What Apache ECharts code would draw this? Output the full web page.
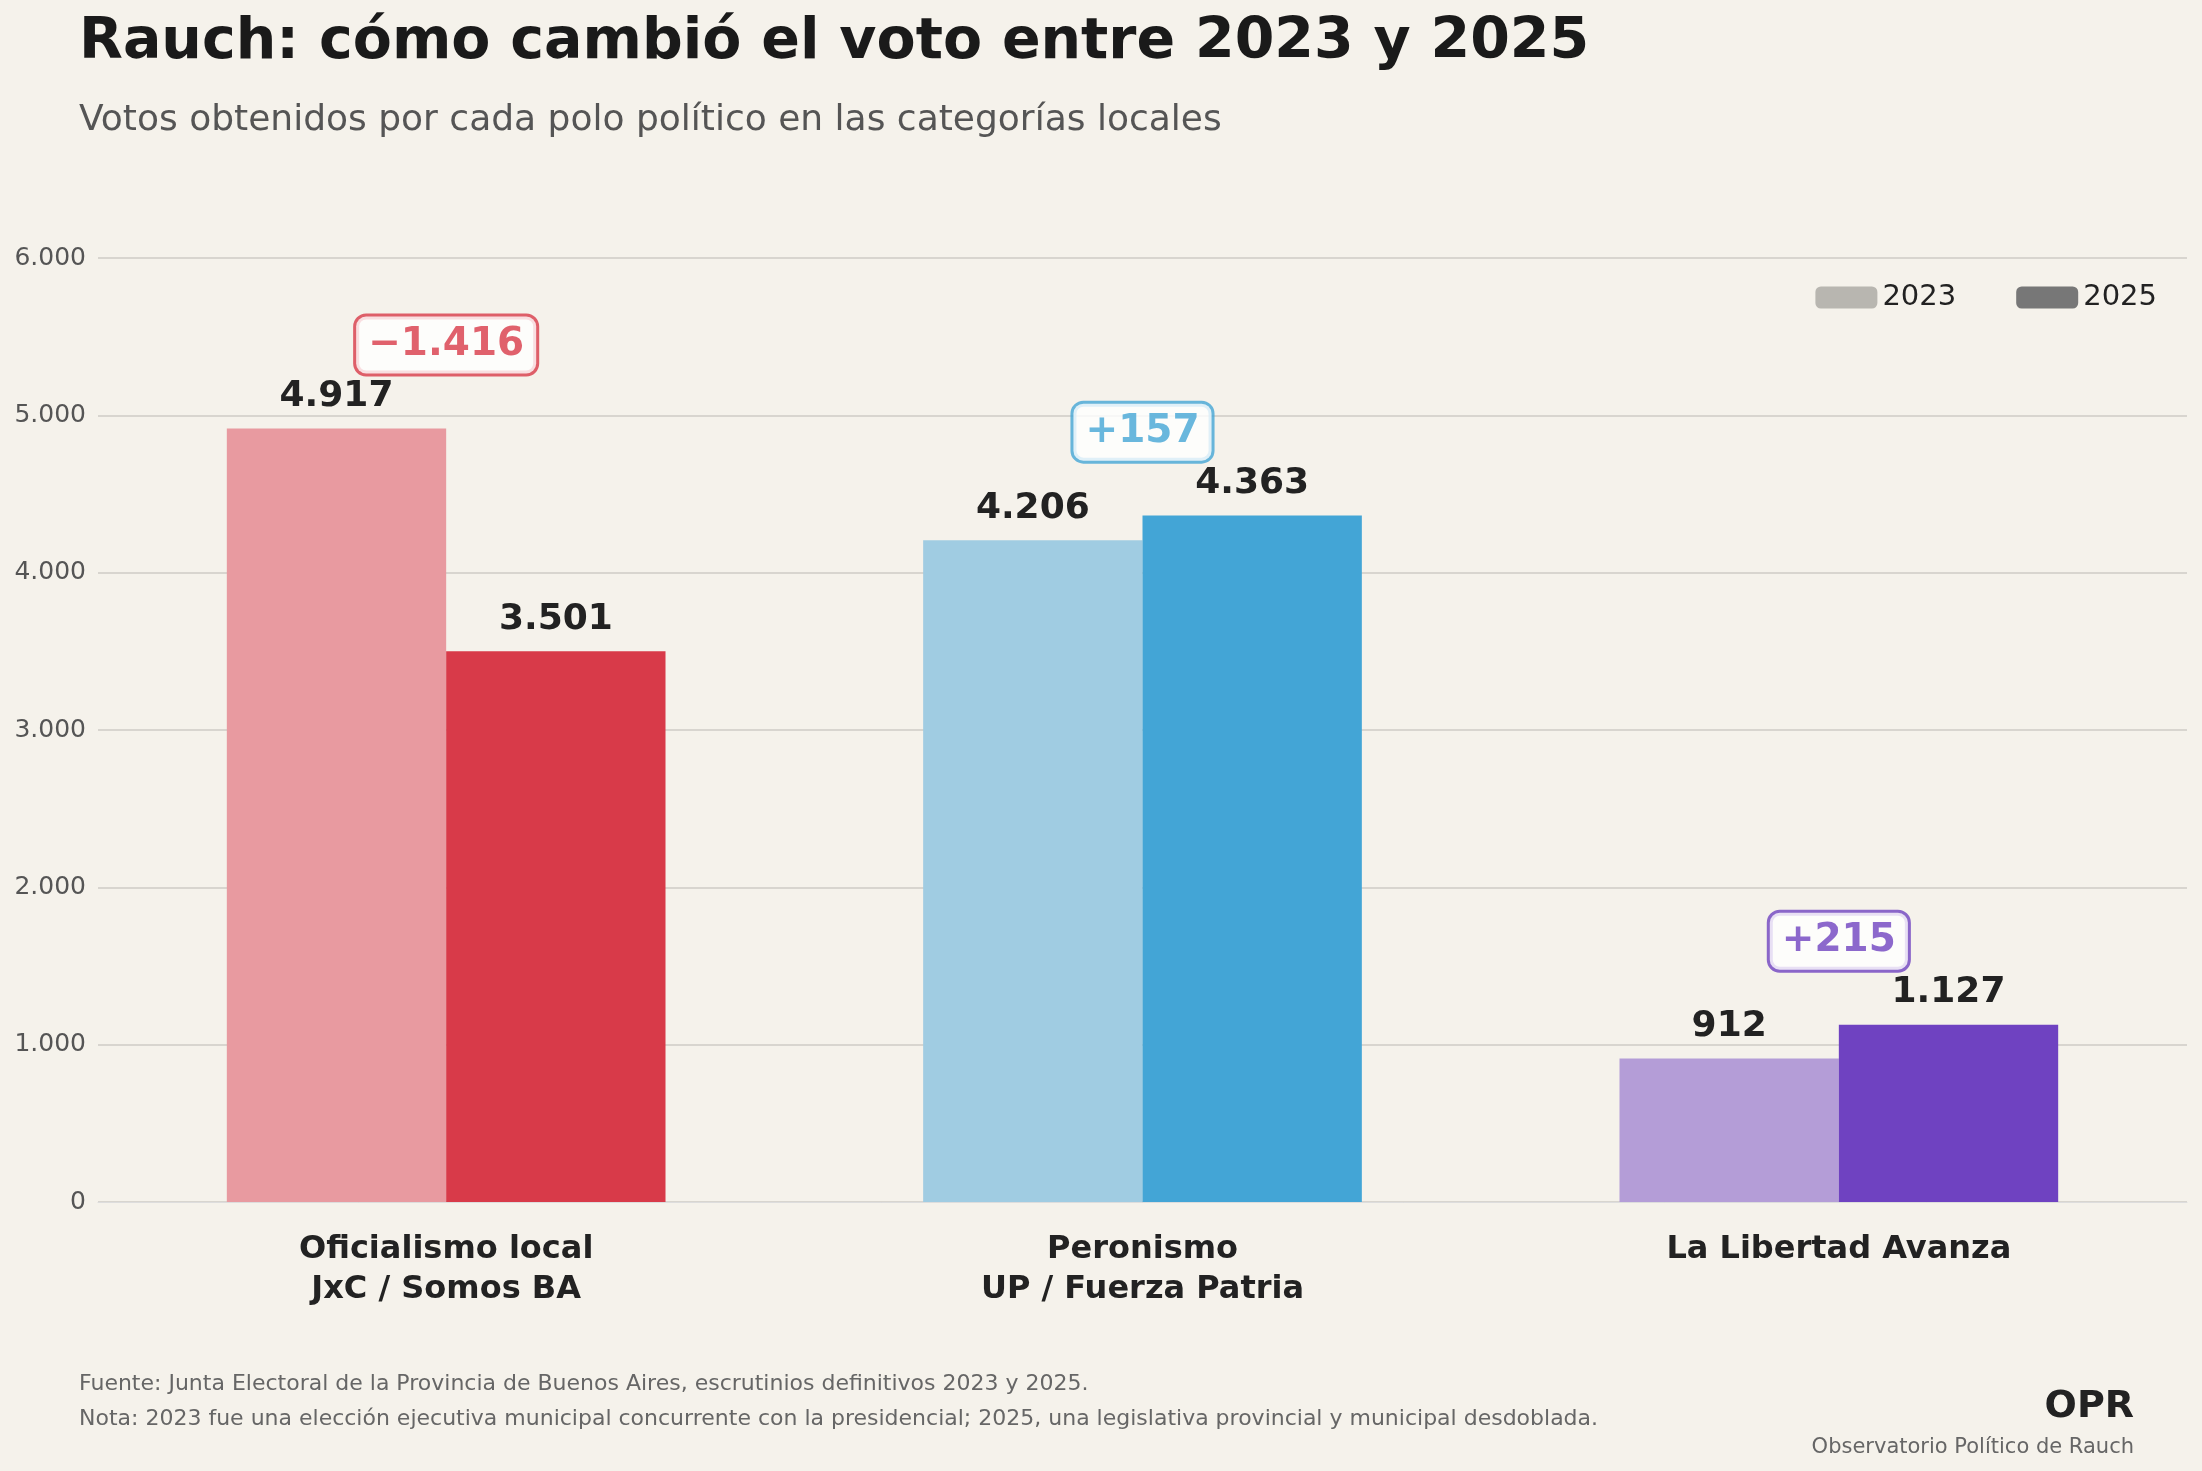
<!DOCTYPE html>
<html><head><meta charset="utf-8">
<script src="https://cdn.jsdelivr.net/npm/echarts@6/dist/echarts.min.js"></script>
<style>html,body{margin:0;padding:0;background:#f5f2eb}#c{width:2202px;height:1471px}</style>
</head><body><div id="c"></div>
<script>
const categories = ['Oficialismo local\nJxC / Somos BA', 'Peronismo\nUP / Fuerza Patria', 'La Libertad Avanza'];
const votes2023 = [4917, 4206, 912];
const votes2025 = [3501, 4363, 1127];
const colors2023 = ['#e89aa0', '#a0cce2', '#b49dd7'];
const colors2025 = ['#d83a49', '#43a5d6', '#6f42c1'];
const yTicks = [0, 1000, 2000, 3000, 4000, 5000, 6000];

const fmt = v => { const s = Math.abs(v).toString().replace(/\B(?=(\d{3})+(?!\d))/g, '.'); return s; };
const fmtDelta = d => (d < 0 ? '\u2212' : '+') + fmt(d);
const deltas = votes2025.map((v, i) => v - votes2023[i]);
const boxData = categories.map((c, i) => ({
  value: [i, Math.max(votes2023[i], votes2025[i]) + 530],
  label: { color: colors2025[i], borderColor: colors2025[i] },
  delta: deltas[i]
}));

const chart = echarts.init(document.getElementById('c'));
const labelCommon = { show: true, position: 'top', distance: 14, fontSize: 36, fontWeight: 'bold', color: '#222', fontFamily: 'DejaVu Sans', formatter: p => fmt(p.value) };
chart.setOption({
  backgroundColor: '#f5f2eb',
  textStyle: { fontFamily: 'DejaVu Sans' },
  title: [
    { text: 'Rauch: cómo cambió el voto entre 2023 y 2025', left: 74, top: 10, textStyle: { fontSize: 57, fontWeight: 'bold', color: '#1a1a1a', fontFamily: 'DejaVu Sans' } },
    { text: 'Votos obtenidos por cada polo político en las categorías locales', left: 74, top: 98, textStyle: { fontSize: 36, fontWeight: 'normal', color: '#555', fontFamily: 'DejaVu Sans' } },
    { text: 'Fuente: Junta Electoral de la Provincia de Buenos Aires, escrutinios definitivos 2023 y 2025.\nNota: 2023 fue una elección ejecutiva municipal concurrente con la presidencial; 2025, una legislativa provincial y municipal desdoblada.', left: 74, top: 1362, textStyle: { fontSize: 22, fontWeight: 'normal', color: '#666', lineHeight: 35, fontFamily: 'DejaVu Sans' } },
    { text: 'OPR', right: 63, top: 1383, textStyle: { fontSize: 38, fontWeight: 'bold', color: '#222', fontFamily: 'DejaVu Sans' } },
    { text: 'Observatorio Político de Rauch', right: 63, top: 1432, textStyle: { fontSize: 21, fontWeight: 'normal', color: '#666', fontFamily: 'DejaVu Sans' } }
  ],
  legend: { right: 40, top: 278, itemWidth: 62, itemHeight: 22, itemGap: 60, textStyle: { fontSize: 29, color: '#222' }, data: ['2023', '2025'] },
  grid: { left: 98, right: 15, top: 258, bottom: 269 },
  xAxis: { type: 'category', data: categories, axisTick: { show: false }, axisLine: { lineStyle: { color: '#ddd' } },
    axisLabel: { fontSize: 32, fontWeight: 'bold', color: '#222', lineHeight: 40, margin: 28 } },
  yAxis: { type: 'value', min: 0, max: 6000, interval: 1000, axisLine: { show: false }, axisTick: { show: false },
    splitLine: { lineStyle: { color: '#d8d5cf', width: 2 } },
    axisLabel: { fontSize: 25, color: '#555', margin: 12, formatter: v => yTicks.includes(v) ? fmt(v) : '' } },
  series: [
    { name: '2023', type: 'bar', barGap: '0%', barCategoryGap: '37%', itemStyle: { color: '#b8b6b0' },
      data: votes2023.map((v, i) => ({ value: v, itemStyle: { color: colors2023[i] } })), label: labelCommon },
    { name: '2025', type: 'bar', itemStyle: { color: '#777' },
      data: votes2025.map((v, i) => ({ value: v, itemStyle: { color: colors2025[i] } })), label: labelCommon },
    { name: 'delta', type: 'scatter', symbolSize: 0, z: 10, data: boxData,
      label: { show: true, position: 'inside', fontSize: 39, fontWeight: 'bold', backgroundColor: '#fff', borderWidth: 3, borderRadius: 10, padding: [10, 12, 8, 12],
        formatter: p => fmtDelta(deltas[p.dataIndex]) } }
  ]
});
</script></body></html>
